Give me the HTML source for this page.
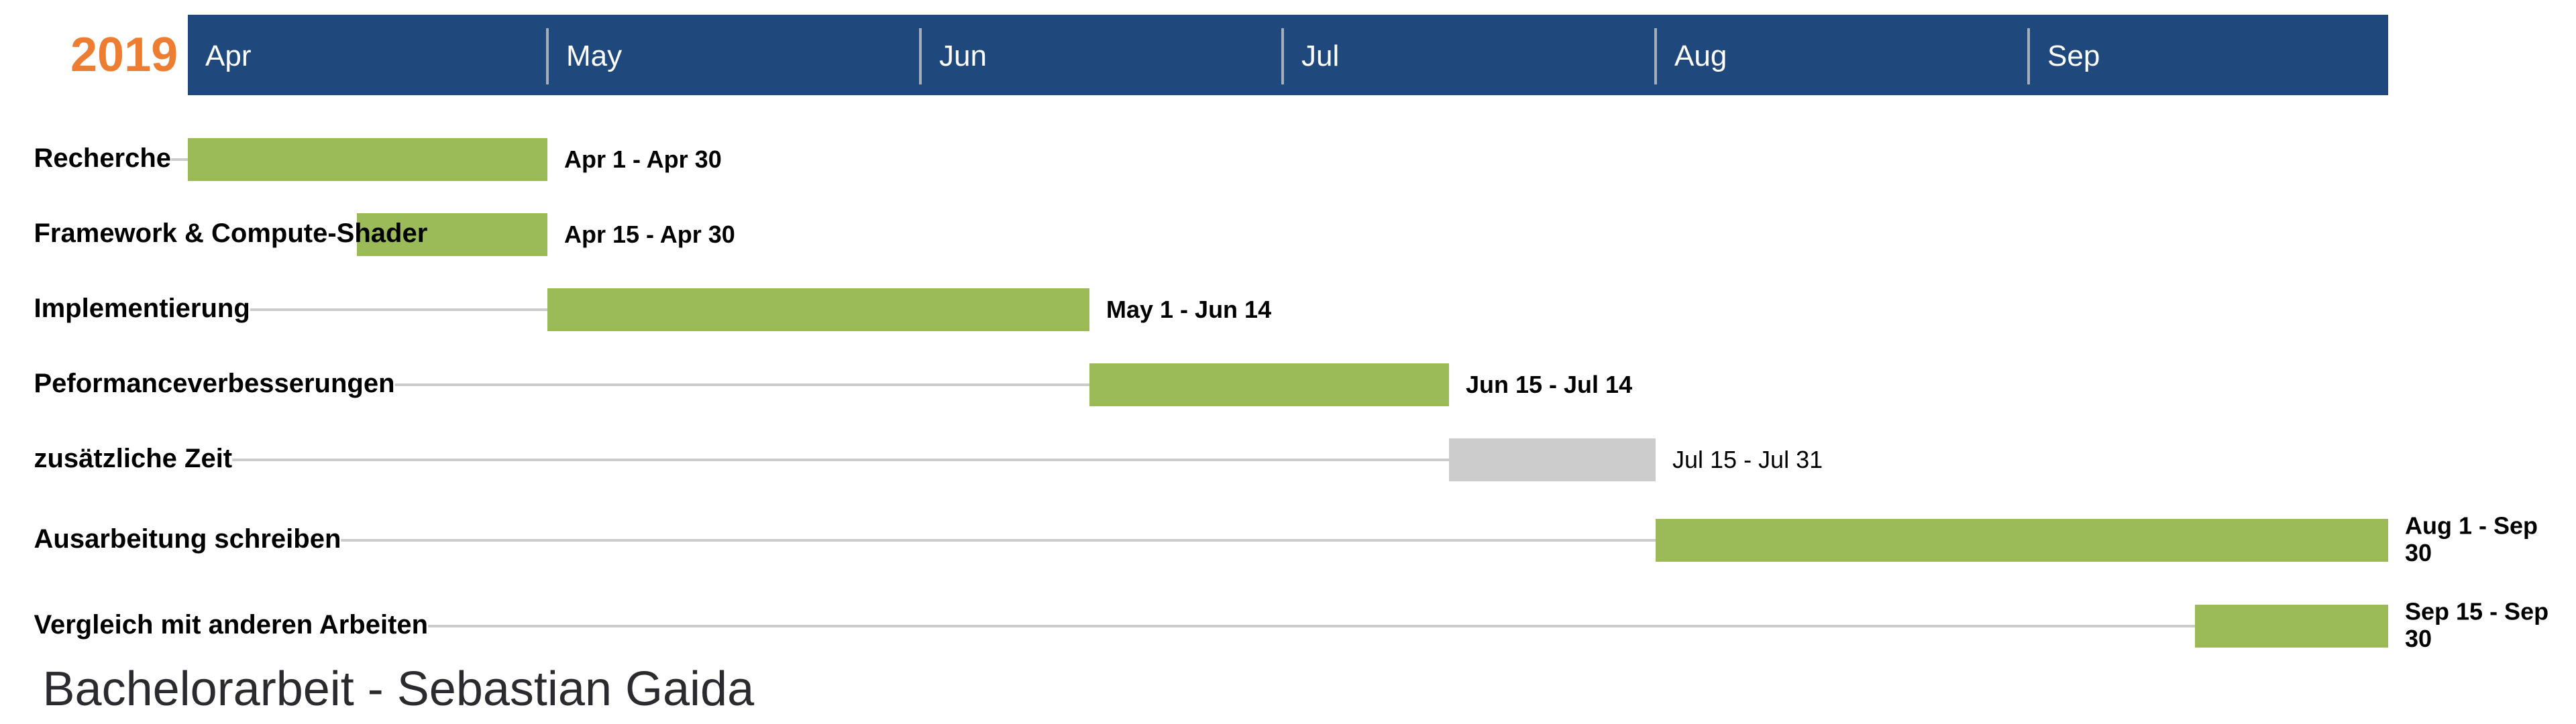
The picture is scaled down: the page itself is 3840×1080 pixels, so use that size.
<!DOCTYPE html>
<html lang="de">
<head>
<meta charset="utf-8">
<title>Bachelorarbeit - Sebastian Gaida</title>
<style>
html,body{margin:0;padding:0;background:#fff;width:3840px;height:1080px;overflow:hidden}
svg{display:block;font-family:"Liberation Sans",Arial,sans-serif}
</style>
</head>
<body>
<svg id="chart" xmlns="http://www.w3.org/2000/svg" width="3840" height="1080" viewBox="0 0 3840 1080">
  <rect x="0" y="0" width="3840" height="1080" fill="#ffffff"/>
  <text x="63.5" y="1052" font-size="72" fill="#2b2b2f">Bachelorarbeit - Sebastian Gaida</text>
  <text x="105" y="106" font-size="72" font-weight="700" fill="#ed7d31">2019</text>
</svg>
<script>
const axisStart = '2019-04-01';
const axisEnd = '2019-10-01';
const monthLabels = ['Apr', 'May', 'Jun', 'Jul', 'Aug', 'Sep'];
const monthStarts = ['2019-04-01', '2019-05-01', '2019-06-01', '2019-07-01', '2019-08-01', '2019-09-01'];
const taskNames = ['Recherche', 'Framework & Compute-Shader', 'Implementierung', 'Peformanceverbesserungen', 'zusätzliche Zeit', 'Ausarbeitung schreiben', 'Vergleich mit anderen Arbeiten'];
const taskStarts = ['2019-04-01', '2019-04-15', '2019-05-01', '2019-06-15', '2019-07-15', '2019-08-01', '2019-09-15'];
const taskEnds = ['2019-04-30', '2019-04-30', '2019-06-14', '2019-07-14', '2019-07-31', '2019-09-30', '2019-09-30'];
const dateLabels = ['Apr 1 - Apr 30', 'Apr 15 - Apr 30', 'May 1 - Jun 14', 'Jun 15 - Jul 14', 'Jul 15 - Jul 31', 'Aug 1 - Sep 30', 'Sep 15 - Sep 30'];
const taskKinds = ['work', 'work', 'work', 'work', 'buffer', 'work', 'work'];

const svg = document.getElementById('chart');
const NS = 'http://www.w3.org/2000/svg';
const plotLeft = 280, plotRight = 3560;
const DAY = 86400000;
const toTime = s => Date.parse(s + 'T00:00:00Z');
// The reference snaps every time position to a 4px grid
const xScale = t => Math.round((plotLeft + (t - toTime(axisStart)) / (toTime(axisEnd) - toTime(axisStart)) * (plotRight - plotLeft)) / 4) * 4;
const LABEL_SIZE = 40, DATE_SIZE = 36, LABEL_X = 50.5;

function shape(tag, attrs) {
  const el = document.createElementNS(NS, tag);
  for (const k in attrs) el.setAttribute(k, attrs[k]);
  svg.appendChild(el);
  return el;
}

// Timeline band
const band = shape('rect', {x: plotLeft, y: 22, width: plotRight - plotLeft, height: 120, fill: '#1f497d'});



monthLabels.forEach((m, i) => {
  const x = xScale(toTime(monthStarts[i]));
  if (i > 0) {
    const tick = shape('line', {x1: x, x2: x, y1: 42, y2: 126, stroke: '#a5aebb', 'stroke-width': 4});
    
    
  }
  const label = shape('text', {x: x + (i > 0 ? 28 : 26), y: 98, 'font-size': 44, fill: '#ffffff'});
  label.textContent = m;
  
  
});

// Wrap a date label on the last word when it would run off the page
function wrapDate(text, x, weight) {
  const probe = shape('text', {x: x, y: -100, 'font-size': DATE_SIZE, 'font-weight': weight});
  probe.textContent = text;
  const w = probe.getComputedTextLength();
  probe.remove();
  if (x + w <= 3815) return [text];
  const cut = text.lastIndexOf(' ');
  return [text.slice(0, cut), text.slice(cut + 1)];
}

// Rows: 112px pitch, taller when the date label wraps
let rowBottom = 182;
taskNames.forEach((name, i) => {
  const x0 = xScale(toTime(taskStarts[i]));
  const x1 = xScale(toTime(taskEnds[i]) + DAY);
  const buffer = taskKinds[i] === 'buffer';
  const weight = buffer ? 400 : 700;
  const lines = wrapDate(dateLabels[i], x1 + 25, weight);
  const rowH = lines.length > 1 ? 128 : 112;
  const cy = rowBottom + rowH / 2;
  rowBottom += rowH;

  const label = shape('text', {x: LABEL_X, y: cy + 11, 'font-size': LABEL_SIZE, 'font-weight': 700, fill: '#000000'});
  label.textContent = name;
  
  

  const labelEnd = LABEL_X + label.getComputedTextLength();
  if (labelEnd < x0) {
    const conn = shape('line', {x1: labelEnd, x2: x0, y1: cy, y2: cy, stroke: '#cccccc', 'stroke-width': 4});
    
    
  }

  const bar = shape('rect', {x: x0, y: cy - 32, width: x1 - x0, height: 64, fill: buffer ? '#cccccc' : '#9bbb59'});
  
  
  svg.insertBefore(bar, label);

  lines.forEach((line, j) => {
    const y = lines.length > 1 ? cy - 9.5 + j * 40.5 : cy + 12;
    const t = shape('text', {x: x1 + 25, y: y, 'font-size': DATE_SIZE, 'font-weight': weight, fill: '#000000'});
    t.textContent = line;
    
    
  });
});
</script>
</body>
</html>
